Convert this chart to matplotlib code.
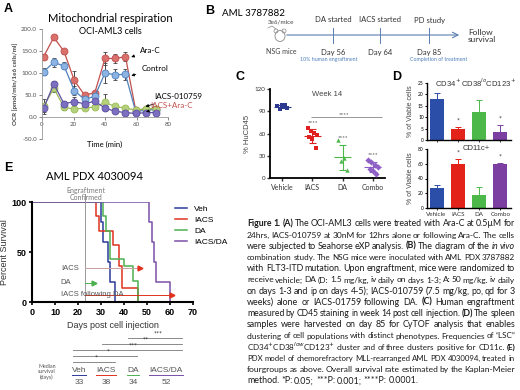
import matplotlib
matplotlib.use("Agg")
import matplotlib.pyplot as plt
import numpy as np
from matplotlib.patches import Ellipse

plt.rcParams["font.family"] = ["Lato", "DejaVu Sans"]

# ---- DATA ----
# A: Seahorse OCR
time_min = [1, 7.5, 14, 20.5, 27, 33.5, 40, 46.5, 53, 59.5, 66, 72.5]
ocr_arac = [137, 181, 149, 83, 50, 55, 133, 133, 137, 15, 18, 18]
ocr_arac_err = [6, 5, 5, 22, 4, 5, 15, 10, 10, 3, 3, 3]
ocr_ctrl = [103, 124, 116, 60, 40, 47, 100, 96, 97, 12, 16, 17]
ocr_ctrl_err = [8, 10, 8, 10, 5, 5, 22, 12, 12, 3, 3, 3]
ocr_iacs = [24, 65, 22, 18, 20, 23, 33, 24, 20, 16, 19, 19]
ocr_iacs_err = [18, 8, 5, 4, 4, 4, 20, 6, 6, 3, 3, 3]
ocr_combo = [20, 75, 30, 35, 30, 36, 20, 13, 10, 8, 10, 10]
ocr_combo_err = [8, 6, 6, 10, 5, 5, 5, 5, 4, 3, 3, 3]

# C: human engraftment week 14
groups_c = ["Vehicle", "IACS", "DA", "Combo"]
hucd45_vehicle = [97, 99, 95, 93, 98]
hucd45_iacs = [67, 64, 61, 58, 55, 52, 40]
hucd45_da = [51, 27, 23, 11]
hucd45_combo = [24, 21, 18, 15, 12, 9, 6]

# D: CyTOF clusters
groups_d = ["Vehicle", "IACS", "DA", "Combo"]
lsc_mean = [18, 5, 12.5, 3.5]
lsc_err = [2.5, 0.7, 5, 3]
cd11c_mean = [27, 59, 17, 60]
cd11c_err = [4, 7, 12, 1]

# E: Kaplan-Meier
veh_days = [0, 30, 31, 33, 34, 36]
veh_surv = [100, 80, 60, 40, 20, 0]
iacs_days = [0, 28, 29, 35, 38, 39, 46]
iacs_surv = [100, 86, 71, 57, 36, 14, 0]
da_days = [0, 31, 32, 34, 40, 44, 46]
da_surv = [100, 86, 71, 43, 36, 21, 0]
iacsda_days = [0, 51, 52, 53, 54, 60]
iacsda_surv = [100, 80, 60, 40, 20, 0]
median_labels = ["Veh", "IACS", "DA", "IACS/DA"]
median_days = [33, 38, 34, 52]

W, H = 520, 390
fig = plt.figure(figsize=(5.2, 3.9), dpi=100)


def rect(x0, y0, x1, y1):
    return [x0 / W, 1 - y1 / H, (x1 - x0) / W, (y1 - y0) / H]


# ---- PANEL A ----
axA = fig.add_axes(rect(42, 29, 168, 139))
seriesA = [
    (ocr_arac, ocr_arac_err, "#c0504d", "#d9706c"),
    (ocr_ctrl, ocr_ctrl_err, "#4f81bd", "#8db3e2"),
    (ocr_iacs, ocr_iacs_err, "#9bbb59", "#b5d17a"),
    (ocr_combo, ocr_combo_err, "#5e4fa2", "#7b6fc0"),
]
for vals, err, c, fc in seriesA:
    axA.errorbar(time_min, vals, yerr=err, color=c, marker="o", ms=5,
                 mfc=fc, mec=c, mew=0.6, lw=0.9, elinewidth=0.7, capsize=1.5,
                 ecolor="#444444")
axA.set_xlim(0, 80)
axA.set_ylim(-50, 200)
for s in ["top", "right"]:
    axA.spines[s].set_visible(False)
axA.spines["bottom"].set_position(("data", 0))
for s in ["left", "bottom"]:
    axA.spines[s].set_color("#999999")
    axA.spines[s].set_linewidth(0.6)
axA.set_yticks([-50, 0, 50, 100, 150, 200])
axA.set_yticklabels([f"{v:.1f}" for v in [-50, 0, 50, 100, 150, 200]])
axA.set_xticks([0, 20, 40, 60, 80])
axA.tick_params(labelsize=4.5, colors="#555555", length=2, width=0.5,
                pad=1.5)
axA.set_facecolor("none")
axA.set_ylabel("OCR [pmol/min/1e6 cells/ml]", fontsize=4.5, fontweight="bold",
               color="#444444", labelpad=2)
akw = dict(fontsize=5.8, annotation_clip=False,
           arrowprops=dict(arrowstyle="-|>", color="black", lw=0.6,
                           mutation_scale=4))
axA.annotate("Ara-C", xy=(55, 134), xytext=(62, 146), **akw)
axA.annotate("Control", xy=(55, 92), xytext=(63, 104), **akw)
axA.annotate("IACS-010759", xy=(64, 22), xytext=(71, 40), **akw)
axA.annotate("IACS+Ara-C", xy=(66, 12), xytext=(69, 20), color="#c0504d",
             **akw)

# ---- PANEL C ----
axC = fig.add_axes(rect(270, 89, 385, 178))
stylesC = [("#2b3990", "s"), ("#e0201f", "s"), ("#4cb84a", "^"),
           ("#8e5fc4", "D")]
for i, (vals, (c, m)) in enumerate(zip(
        [hucd45_vehicle, hucd45_iacs, hucd45_da, hucd45_combo], stylesC)):
    n = len(vals)
    off = np.linspace(-0.16, 0.16, n)
    off = np.concatenate([off[::2], off[1::2]])
    axC.scatter(i + off, vals, s=10, color=c, marker=m, zorder=3, lw=0)
    mu, sd = np.mean(vals), np.std(vals, ddof=1)
    axC.hlines(mu, i - 0.28, i + 0.28, color=c, lw=0.8)
    axC.vlines(i, mu - sd, mu + sd, color=c, lw=0.8)
    axC.hlines([mu - sd, mu + sd], i - 0.12, i + 0.12, color=c, lw=0.8)
    if i > 0:
        axC.text(i, mu + sd + 6, "****", ha="center", va="bottom",
                 fontsize=4.5, color="#444444")
axC.hlines(82, 0.95, 3.3, color="#888888", lw=0.6)
axC.text(2.05, 82.5, "****", ha="center", va="bottom", fontsize=4.5,
         color="#444444")
axC.set_xlim(-0.4, 3.4)
axC.set_ylim(0, 120)
axC.set_yticks([0, 30, 60, 90, 120])
axC.set_xticks(range(4))
axC.set_xticklabels(groups_c)
for s in ["top", "right"]:
    axC.spines[s].set_visible(False)
for s in ["left", "bottom"]:
    axC.spines[s].set_linewidth(1.3)
axC.tick_params(axis="y", labelsize=4.5, length=2, width=1, pad=1,
                colors="#333333")
axC.tick_params(axis="x", labelsize=5, length=2, width=1, pad=2,
                colors="#333333")
axC.set_ylabel("% HuCD45", fontsize=5.5, color="#444444", labelpad=3,
               family="Liberation Sans")
axC.text(1.5, 113, "Week 14", ha="center", va="center", fontsize=5.5,
         color="#444444", family="Liberation Sans")
axC.set_facecolor("none")

# ---- PANEL D ----
colorsD = ["#2b4fa8", "#e32219", "#4cb84a", "#7a3fa0"]
axD1 = fig.add_axes(rect(427, 83, 511, 140))
axD2 = fig.add_axes(rect(427, 149, 511, 208))
for ax, mean, err, top, ticks, title in [
        (axD1, lsc_mean, lsc_err, 25, [0, 5, 10, 15, 20, 25],
         "CD34$^+$CD38$^{lo}$CD123$^+$"),
        (axD2, cd11c_mean, cd11c_err, 80, [0, 20, 40, 60, 80], "CD11c+")]:
    x = np.arange(len(mean))
    ax.bar(x, mean, width=0.66, color=colorsD)
    for xi, m, e, c in zip(x, mean, err, colorsD):
        ax.errorbar(xi, m, yerr=[[0], [e]], color=c, capsize=2.2, lw=0.7,
                    capthick=0.7)
    for xi in [1, 3]:
        ax.text(xi, mean[xi] + err[xi] + top * 0.05, "*", ha="center",
                va="bottom", fontsize=5, color="#333333")
    ax.set_xlim(-0.45, 3.5)
    ax.set_ylim(0, top)
    ax.set_yticks(ticks)
    ax.set_xticks(x)
    for s in ["top", "right"]:
        ax.spines[s].set_visible(False)
    for s in ["left", "bottom"]:
        ax.spines[s].set_linewidth(1.0)
    ax.tick_params(axis="y", labelsize=3.5, length=1.5, width=0.7, pad=0.8)
    ax.tick_params(axis="x", labelsize=4.5, length=1.5, width=0.7, pad=1.5,
                   colors="#333333")
    ax.set_ylabel("% of Viable cells", fontsize=5, color="#444444",
                  labelpad=3, family="Liberation Sans")
    ax.text(1.85, top, title, ha="center", va="center", fontsize=5.5,
            color="#333333", family="Liberation Sans")
    ax.set_facecolor("none")
axD1.set_xticklabels([])
axD2.set_xticklabels(groups_d)

# ---- PANEL E ----
axE = fig.add_axes(rect(32, 202, 193, 302))
colorsE = ["#2b3a9b", "#e0321e", "#4cb050", "#7a4fa8"]
curves = [(veh_days, veh_surv), (iacs_days, iacs_surv), (da_days, da_surv),
          (iacsda_days, iacsda_surv)]
for (d, s), c, lab in zip(curves, colorsE, median_labels):
    axE.step(d, s, where="post", color=c, lw=1.1, label=lab)
axE.axvline(23, ymin=0, ymax=1.08, color="#999999", lw=0.7, clip_on=False)
axE.text(23.5, 108, "Engraftment\nConfirmed", ha="center", va="center",
         fontsize=5, color="#777777", linespacing=1.0)
arrowsE = [("IACS", 34, 47, "#e0321e", "#c8a0a0"),
           ("DA", 19, 27, "#4cb050", "#4cb050"),
           ("IACS following DA", 7, 61, "#e0321e", "#e0321e")]
for lab, yv, xe, hc, lc in arrowsE:
    axE.plot([23, xe], [yv, yv], color=lc, lw=0.7)
    axE.plot([xe], [yv], marker=">", color=hc, ms=3.5)
    axE.text(12.5, yv, lab, ha="left", va="center", fontsize=5.5,
             color="#555555", family="Liberation Sans")
axE.set_xlim(0, 70)
axE.set_ylim(0, 100)
axE.set_xticks(range(0, 71, 10))
axE.set_yticks([0, 50, 100])
for s in ["top", "right"]:
    axE.spines[s].set_visible(False)
for s in ["left", "bottom"]:
    axE.spines[s].set_linewidth(1.5)
axE.tick_params(labelsize=6.5, length=2.5, width=1.2, pad=1.5)
for t in axE.get_xticklabels() + axE.get_yticklabels():
    t.set_fontweight("bold")
    t.set_family("Liberation Sans")
axE.set_ylabel("Percent Survival", fontsize=6.5, color="#333333",
               labelpad=2, family="Liberation Sans")
axE.set_xlabel("Days post cell injection", fontsize=6.5, color="#333333",
               labelpad=3, family="Liberation Sans")
axE.legend(loc="upper left", bbox_to_anchor=(0.84, 1.04), frameon=False,
           handlelength=1.5, labelspacing=0.35,
           prop={"family": "Liberation Sans", "size": 6})
axE.set_facecolor("none")

# ---- OVERLAY (pixel coordinates) ----
ov = fig.add_axes([0, 0, 1, 1])
ov.set_xlim(0, W)
ov.set_ylim(H, 0)
ov.axis("off")
ov.patch.set_visible(False)

for lab, x, y in [("A", 4, 9), ("B", 205, 11), ("C", 235, 77),
                  ("D", 392, 77), ("E", 4, 168)]:
    ov.text(x, y, lab, fontsize=9, fontweight="bold", va="center",
            family="Liberation Sans")

ov.text(110, 19, "Mitochondrial respiration", ha="center", va="center",
        fontsize=8)
ov.text(110, 32, "OCI-AML3 cells", ha="center", va="center", fontsize=6.5)
ov.text(105, 144, "Time (min)", ha="center", va="center", fontsize=5.5)
ov.text(95, 176, "AML PDX 4030094", ha="center", va="center", fontsize=8)

# Panel B timeline
ov.text(222, 13, "AML 3787882", fontsize=7, va="center")
ov.annotate("", xy=(462, 35), xytext=(284, 35),
            arrowprops=dict(arrowstyle="->", color="#5b7fb0", lw=0.8))
ov.add_patch(Ellipse((280, 36), 10, 11, fill=False, ec="#888888", lw=0.6))
ov.add_patch(Ellipse((276, 31), 4, 4, fill=False, ec="#888888", lw=0.5))
ov.add_patch(Ellipse((284, 31), 4, 4, fill=False, ec="#888888", lw=0.5))
ov.plot([268, 272, 276], [28, 26, 29], color="#888888", lw=0.5)
ov.text(281, 22, "3e6/mice", ha="center", va="center", fontsize=4.5,
        color="#444444")
ov.text(281, 52, "NSG mice", ha="center", va="center", fontsize=5,
        color="#444444")
for x, top_lab, bot_lab in [(333, "DA started", "Day 56"),
                            (380, "IACS started", "Day 64"),
                            (429, "PD study", "Day 85")]:
    ov.plot([x, x], [28, 43], color="#5b7fb0", lw=0.7)
    ov.text(x, 20, top_lab, ha="center", va="center", fontsize=5.5,
            color="#333333")
    ov.text(x, 52, bot_lab, ha="center", va="center", fontsize=5.5,
            color="#333333")
ov.text(329, 60, "10% human engraftment", ha="center", va="center",
        fontsize=3.8, color="#4f81bd")
ov.text(439, 60, "Completion of treatment", ha="center", va="center",
        fontsize=3.8, color="#4f81bd")
ov.text(468, 36, "Follow\nsurvival", ha="left", va="center", fontsize=6,
        color="#333333", linespacing=1.1)

# Panel E significance lines and median table
sig = [(128, 338, "***"), (102, 344, "**"), (73, 350, "***"),
       (73, 356, "*"), (73, 362, "*")]
sig_end = [182, 182, 182, 137, 115]
for (x0, y, stars), x1 in zip(sig, sig_end):
    ov.plot([x0, x1], [y, y], color="#777777", lw=0.6)
    ov.text(x0 + (x1 - x0) * 0.55, y - 0.5, stars, ha="center",
            va="bottom", fontsize=5, color="#333333")
ov.text(47, 372, "Median\nsurvival\n(days)", ha="center", va="center",
        fontsize=3.8, color="#555555", linespacing=1.1)
for lab, val, x, c in zip(median_labels, median_days, [79, 106, 133, 166],
                          colorsE):
    t = ov.text(x, 370, lab, ha="center", va="center", fontsize=6,
                color="#555555", family="Liberation Sans")
    tw = t.get_window_extent(fig.canvas.get_renderer()).width
    ov.plot([x - tw / 2, x + tw / 2], [374.5, 374.5], color=c, lw=0.7)
    ov.text(x, 383, str(val), ha="center", va="center", fontsize=6,
            color="#555555", family="Liberation Sans")

# Caption (justified)
caption = [
    "**Figure** **1.** **(A)** The OCI-AML3 cells were treated with Ara-C at 0.5\u00b5M for",
    "24hrs, IACS-010759 at 30nM for 12hrs alone or following Ara-C. The cells",
    "were subjected to Seahorse eXP analysis. **(B)** The diagram of the _in _vivo",
    "combination study. The NSG mice were inoculated with AML PDX 3787882",
    "with FLT3-ITD mutation. Upon engraftment, mice were randomized to",
    "receive vehicle; DA (D: 1.5 mg/kg, iv daily on days 1-3; A: 50 mg/kg. iv daily",
    "on days 1-3 and ip on days 4-5); IACS-010759 (7.5 mg/kg, po, qd for 3",
    "weeks) alone or IACS-01759 following DA. **(C)** Human engraftment",
    "measured by CD45 staining in week 14 post cell injection. **(D)** The spleen",
    "samples were harvested on day 85 for CyTOF analysis that enables",
    "clustering of cell populations with distinct phenotypes. Frequencies of \u201cLSC\u201d",
    "CD34$^{+}$CD38$^{low}$CD123$^{+}$ cluster and of three clusters positive for CD11c. **(E)**",
    "PDX model of chemorefractory MLL-rearranged AML PDX 4030094, treated in",
    "fourgroups as above. Overall survival rate estimated by the Kaplan-Meier",
    "method. *P: 0.05; ***P: 0.001; ****P: 0.0001.",
]
cap_x0, cap_x1, cap_y0, cap_dy = 247, 515, 224, 11.2
renderer = fig.canvas.get_renderer()
for i, line in enumerate(caption):
    words = line.split(" ")
    size = 6.4
    while True:
        texts = []
        for w in words:
            kw = {}
            if w.startswith("**") and w.endswith("**"):
                w = w[2:-2]
                kw["fontweight"] = "bold"
            elif w.startswith("_"):
                w = w[1:]
                kw["fontstyle"] = "italic"
            texts.append(ov.text(0, cap_y0 + i * cap_dy, w, fontsize=size,
                                 va="center", ha="left", color="#1a1a1a",
                                 **kw))
        widths = [t.get_window_extent(renderer).width for t in texts]
        gap = (cap_x1 - cap_x0 - sum(widths)) / max(len(words) - 1, 1)
        if gap >= 1.4 or size < 5:
            break
        for t in texts:
            t.remove()
        size -= 0.1
    if i == len(caption) - 1:
        gap = 1.8
    x = cap_x0
    for t, w in zip(texts, widths):
        t.set_x(x)
        x += w + gap

fig.savefig("out.png", dpi=100)
